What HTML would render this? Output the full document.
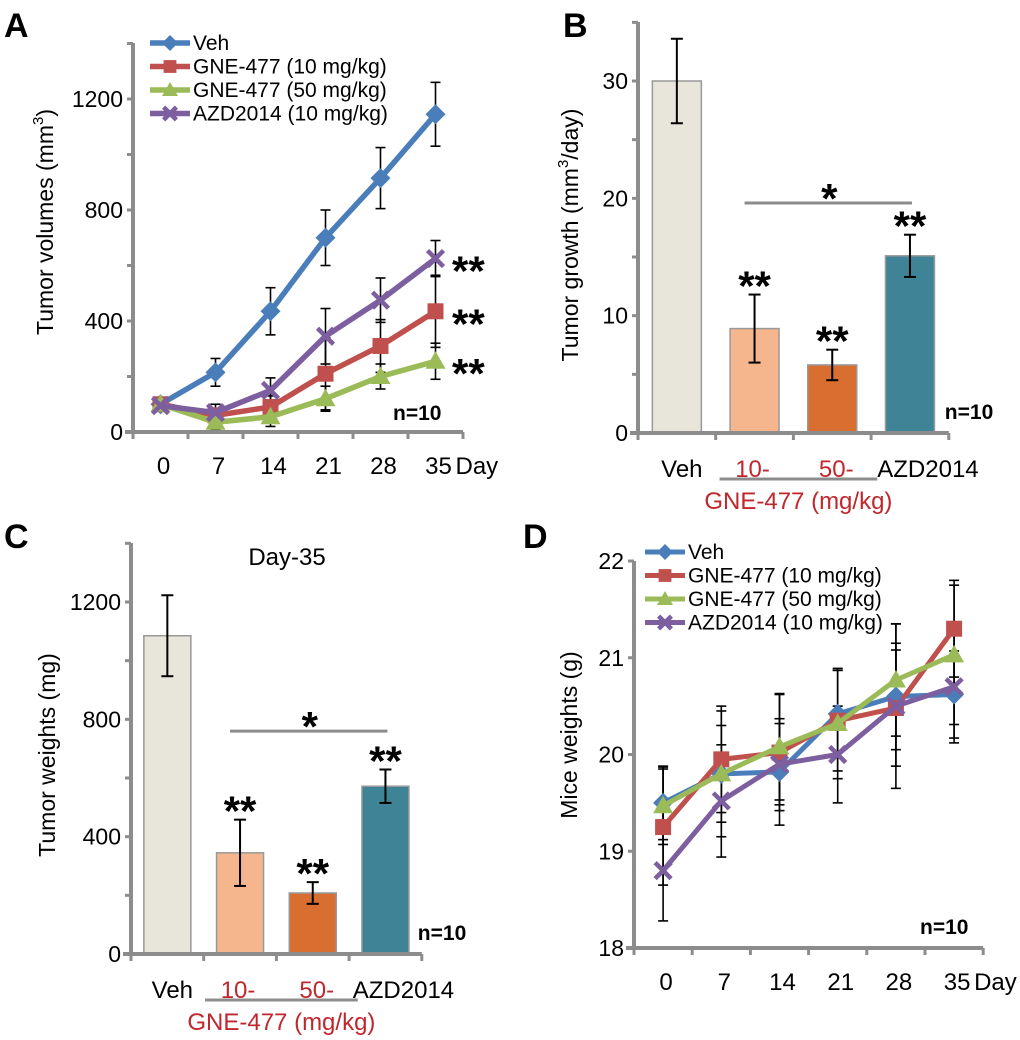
<!DOCTYPE html>
<html><head><meta charset="utf-8"><style>
html,body{margin:0;padding:0;background:#fff;overflow:hidden;}
svg{display:block;font-family:"Liberation Sans",sans-serif;}
</style></head><body>
<svg id="fig" width="1020" height="1040" viewBox="0 0 1020 1040"></svg>
<script>
// ---------- data ----------
const days = ["0","7","14","21","28","35"];
const seriesNames = ["Veh","GNE-477 (10 mg/kg)","GNE-477 (50 mg/kg)","AZD2014 (10 mg/kg)"];
const seriesColors = ["#4a7ebb","#c0504d","#9bbb59","#7d5fa0"];
const seriesMarkers = ["diamond","square","triangle","x"];
// Panel A tumor volumes
const aVeh = [100,215,435,700,915,1145];
const aG10 = [100,60,90,210,310,435];
const aG50 = [100,35,55,120,200,255];
const aAZD = [95,70,150,345,475,625];
const aVehErr = [20,50,85,100,110,115];
const aG10Err = [20,25,40,130,95,130];
const aG50Err = [20,25,35,45,45,65];
const aAZDErr = [20,30,45,100,80,65];
const aTicks = [0,400,800,1200];
// Panel D mice weights
const dVeh = [19.5,19.8,19.82,20.42,20.6,20.62];
const dG10 = [19.25,19.95,20.02,20.35,20.48,21.3];
const dG50 = [19.47,19.8,20.08,20.32,20.77,21.03];
const dAZD = [18.8,19.52,19.9,20.0,20.5,20.7];
const dVehErr = [0.38,0.5,0.55,0.45,0.55,0.45];
const dG10Err = [0.6,0.55,0.6,0.52,0.6,0.5];
const dG50Err = [0.4,0.65,0.55,0.57,0.58,0.72];
const dAZDErr = [0.52,0.58,0.42,0.5,0.85,0.58];
const dTicks = [18,19,20,21,22];
// Panels B, C
const barCats = ["Veh","10-","50-","AZD2014"];
const barColors = ["#e8e5da","#f5b58d","#d96e31","#3f8496"];
const bVals = [30,8.9,5.8,15.1];
const bErr = [3.6,2.9,1.3,1.8];
const bTicks = [0,10,20,30];
const cVals = [1085,345,208,572];
const cErr = [138,113,37,57];
const cTicks = [0,400,800,1200];

const NS="http://www.w3.org/2000/svg";
const svg=document.getElementById('fig');
function el(tag,attrs,parent,text){const e=document.createElementNS(NS,tag);for(const k in attrs)e.setAttribute(k,attrs[k]);if(text!==undefined)e.textContent=text;(parent||svg).appendChild(e);return e;}
const AX="#8c8c8c";

function panelLetter(t,x,y){
  const e=el('text',{x:x,y:y,'font-size':34,'font-weight':'bold',fill:'#000'},svg,t);
  
  
}

function yAxis(g,x,yTop,yZero,ticks,ys,minorStep,vmax){
  const a=el('line',{x1:x,y1:yTop,x2:x,y2:yZero,stroke:AX,'stroke-width':4},g);
  
  
  for(let v=ticks[0];v<=vmax+1e-9;v+=minorStep){
    el('line',{x1:x-6,y1:ys(v),x2:x,y2:ys(v),stroke:AX,'stroke-width':3},g);
  }
  ticks.forEach(t=>{
    const e=el('text',{x:x-10,y:ys(t)+8,'font-size':23,'text-anchor':'end',fill:'#000'},g,String(t));
    
    
  });
}
function yTitle(g,x,y,html){
  const e=el('text',{x:0,y:0,'font-size':23,'text-anchor':'middle',fill:'#000',transform:`translate(${x},${y}) rotate(-90)`},g);
  e.innerHTML=html;
  
  
}
function marker(g,type,x,y,c,s){
  let m;
  if(type==='diamond') m=el('polygon',{points:`${x},${y-s} ${x+s},${y} ${x},${y+s} ${x-s},${y}`,fill:c},g);
  else if(type==='square') m=el('rect',{x:x-s*0.8,y:y-s*0.8,width:s*1.6,height:s*1.6,fill:c},g);
  else if(type==='triangle') m=el('polygon',{points:`${x},${y-s} ${x+s},${y+s*0.75} ${x-s},${y+s*0.75}`,fill:c},g);
  else { m=el('path',{d:`M${x-s*0.8},${y-s*0.8}L${x+s*0.8},${y+s*0.8}M${x+s*0.8},${y-s*0.8}L${x-s*0.8},${y+s*0.8}`,stroke:c,'stroke-width':4.5,fill:'none'},g);}
  
  
}

function linePanel(id,cfg){
  const g=el('g',{},svg);
  
  
  const ys=v=>cfg.yZero-(v-cfg.vmin)/(cfg.vmax-cfg.vmin)*(cfg.yZero-cfg.yTop);
  const xs=i=>cfg.x0+cfg.w*(i+0.5);
  cfg.series.forEach((s,si)=>{
    s.forEach((v,i)=>{
      const e=cfg.errs[si][i];
      el('line',{x1:xs(i),y1:ys(v-e),x2:xs(i),y2:ys(v+e),stroke:'#000','stroke-width':1.6},g);
      el('line',{x1:xs(i)-5,y1:ys(v-e),x2:xs(i)+5,y2:ys(v-e),stroke:'#000','stroke-width':1.6},g);
      el('line',{x1:xs(i)-5,y1:ys(v+e),x2:xs(i)+5,y2:ys(v+e),stroke:'#000','stroke-width':1.6},g);
    });
  });
  yAxis(g,cfg.x0,cfg.axTop,cfg.yZero,cfg.ticks,ys,cfg.minor,cfg.axMax);
  const xa=el('line',{x1:cfg.x0-8,y1:cfg.yZero,x2:cfg.x0+cfg.w*6,y2:cfg.yZero,stroke:AX,'stroke-width':4},g);
  
  
  for(let i=0;i<=6;i++) el('line',{x1:cfg.x0+cfg.w*i,y1:cfg.yZero,x2:cfg.x0+cfg.w*i,y2:cfg.yZero+7,stroke:AX,'stroke-width':3},g);
  days.forEach((d,i)=>{
    const t=el('text',{x:xs(i)+3,y:cfg.yZero+42,'font-size':24,'text-anchor':'middle',fill:'#000'},g,d);
    
    
  });
  const dl=el('text',{x:xs(5)+20,y:cfg.yZero+42,'font-size':24,fill:'#000'},g,'Day');
  
  
  cfg.series.forEach((s,si)=>{
    const pl=el('polyline',{points:s.map((v,i)=>xs(i)+','+ys(v)).join(' '),fill:'none',stroke:seriesColors[si],'stroke-width':cfg.lw,'stroke-linejoin':'round'},g);
    
    
    s.forEach((v,i)=>marker(g,seriesMarkers[si],xs(i),ys(v),seriesColors[si],cfg.ms));
  });
  seriesNames.forEach((n,si)=>{
    const y=cfg.legY+si*cfg.legDy;
    const lg=el('g',{},g);
    
    
    el('line',{x1:cfg.legX,y1:y,x2:cfg.legX+40,y2:y,stroke:seriesColors[si],'stroke-width':cfg.lw},lg);
    marker(lg,seriesMarkers[si],cfg.legX+20,y,seriesColors[si],cfg.ms*0.8);
    el('text',{x:cfg.legX+43,y:y+7,'font-size':21,fill:'#000'},lg,n);
  });
  const nt=el('text',{x:cfg.nX,y:cfg.nY,'font-size':21,'font-weight':'bold',fill:'#000'},g,'n=10');
  
  
  return {g,ys,xs};
}

function barPanel(id,cfg){
  const g=el('g',{},svg);
  
  
  const ys=v=>cfg.yZero-v/cfg.vmax*(cfg.yZero-cfg.yTop);
  const xs=i=>cfg.x0+cfg.w*(i+0.5);
  cfg.vals.forEach((v,i)=>{
    const b=el('rect',{x:xs(i)-cfg.bw/2,y:ys(v),width:cfg.bw,height:cfg.yZero-ys(v),fill:barColors[i],stroke:'#999','stroke-width':1.5},g);
    
    
    const e=cfg.errs[i];
    el('line',{x1:xs(i),y1:ys(v-e),x2:xs(i),y2:ys(v+e),stroke:'#000','stroke-width':2},g);
    el('line',{x1:xs(i)-6,y1:ys(v-e),x2:xs(i)+6,y2:ys(v-e),stroke:'#000','stroke-width':2},g);
    el('line',{x1:xs(i)-6,y1:ys(v+e),x2:xs(i)+6,y2:ys(v+e),stroke:'#000','stroke-width':2},g);
    if(i>0){
      const s=el('text',{x:xs(i),y:ys(v+e)+6,'font-size':42,'font-weight':'bold','text-anchor':'middle',fill:'#000'},g,'**');
      
      
    }
  });
  yAxis(g,cfg.x0,cfg.axTop,cfg.yZero,cfg.ticks,ys,cfg.minor,cfg.axMax);
  const xa=el('line',{x1:cfg.x0-8,y1:cfg.yZero,x2:cfg.x0+cfg.w*4,y2:cfg.yZero,stroke:AX,'stroke-width':4},g);
  
  
  for(let i=0;i<=4;i++) el('line',{x1:cfg.x0+cfg.w*i,y1:cfg.yZero,x2:cfg.x0+cfg.w*i,y2:cfg.yZero+7,stroke:AX,'stroke-width':3},g);
  const offs=[5,-2,4,18];
  barCats.forEach((c,i)=>{
    const t=el('text',{x:xs(i)+offs[i],y:cfg.yZero+44,'font-size':24,'text-anchor':'middle',fill:(i==1||i==2)?'#c0272d':'#000'},g,c);
    
    
  });
  el('line',{x1:xs(1)-35,y1:cfg.yZero+46,x2:xs(2)+45,y2:cfg.yZero+46,stroke:AX,'stroke-width':3},g);
  const gt=el('text',{x:(xs(1)+xs(2))/2+5,y:cfg.yZero+76,'font-size':24,'text-anchor':'middle',fill:'#c0272d'},g,'GNE-477 (mg/kg)');
  
  
  const sl=el('line',{x1:xs(1)-10,y1:ys(cfg.sigV),x2:xs(3)+2,y2:ys(cfg.sigV),stroke:AX,'stroke-width':3},g);
  
  
  el('text',{x:(xs(1)+xs(3))/2-3,y:ys(cfg.sigV)+10,'font-size':42,'font-weight':'bold','text-anchor':'middle',fill:'#000'},g,'*');
  const nt=el('text',{x:cfg.x0+cfg.w*4-4,y:cfg.yZero-14,'font-size':21,'font-weight':'bold',fill:'#000'},g,'n=10');
  
  
  return g;
}

// Panel A
panelLetter('A',4,37);
const pA=linePanel('panel-a-tumor-volumes',{x0:133,w:55,yZero:432,yTop:99,vmin:0,vmax:1200,axTop:43,axMax:1400,minor:200,ticks:aTicks,
  series:[aVeh,aG10,aG50,aAZD],errs:[aVehErr,aG10Err,aG50Err,aAZDErr],lw:5.5,ms:10,legX:150,legY:43,legDy:23.5,nX:393,nY:420});
yTitle(pA.g,53,222,'Tumor volumes (mm<tspan font-size="15" dy="-10">3</tspan><tspan dy="10">)</tspan>');
[aAZD,aG10,aG50].forEach((ser)=>{
  const t=el('text',{x:452,y:pA.ys(ser[5])+27,'font-size':42,'font-weight':'bold',fill:'#000'},pA.g,'**');
  
  
});

// Panel B
panelLetter('B',563,37);
const gB=barPanel('panel-b-tumor-growth',{x0:638,w:77.7,bw:49,yZero:433,yTop:81,vmax:30,axTop:22,axMax:35,minor:5,ticks:bTicks,vals:bVals,errs:bErr,sigV:19.6});
yTitle(gB,578,235,'Tumor growth (mm<tspan font-size="15" dy="-10">3</tspan><tspan dy="10">/day)</tspan>');

// Panel C
panelLetter('C',4,548);
const gC=barPanel('panel-c-tumor-weights',{x0:131,w:72.7,bw:47,yZero:954,yTop:602,vmax:1200,axTop:543,axMax:1400,minor:200,ticks:cTicks,vals:cVals,errs:cErr,sigV:760});
yTitle(gC,55,755,'Tumor weights (mg)');
const d35=el('text',{x:287,y:565,'font-size':24,'text-anchor':'middle',fill:'#000'},gC,'Day-35');



// Panel D
panelLetter('D',523,548);
const pD=linePanel('panel-d-mice-weights',{x0:634,w:58.2,yZero:948,yTop:561,vmin:18,vmax:22,axTop:561,axMax:22,minor:1,ticks:dTicks,
  series:[dVeh,dG10,dG50,dAZD],errs:[dVehErr,dG10Err,dG50Err,dAZDErr],lw:5,ms:10,legX:645,legY:552,legDy:23.5,nX:920,nY:934});
yTitle(pD.g,577,735,'Mice weights (g)');
</script>
</body></html>
